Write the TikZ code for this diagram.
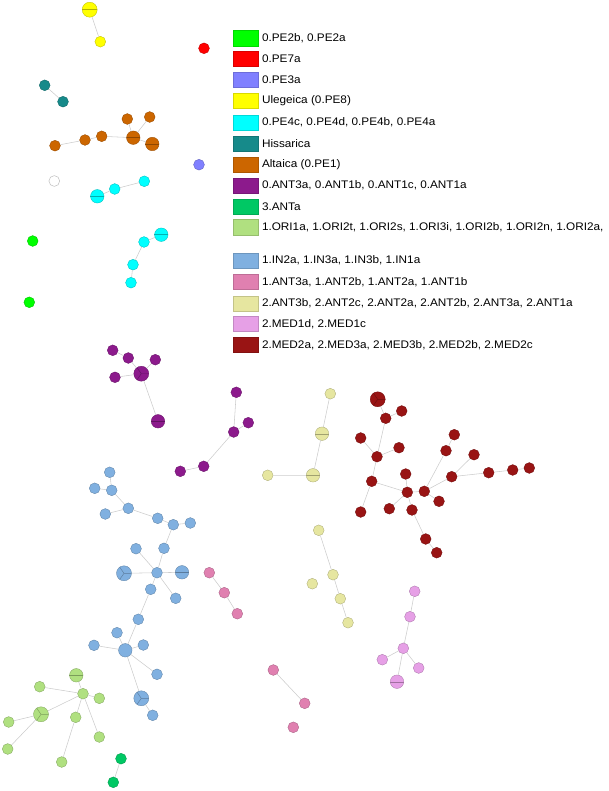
\documentclass[tikz,border=0pt]{standalone}
\usepackage{fontspec}
\setmainfont{Liberation Sans}
\newfontfamily\legfont[FakeStretch=1.07]{Liberation Sans}
\definecolor{cPEtwo}{HTML}{00FF00}
\definecolor{cPEseven}{HTML}{FF0000}
\definecolor{cPEthree}{HTML}{8080FF}
\definecolor{cUle}{HTML}{FFFF00}
\definecolor{cPEfour}{HTML}{00FFFF}
\definecolor{cHis}{HTML}{168A8A}
\definecolor{cAlt}{HTML}{CC6600}
\definecolor{cANTz}{HTML}{8C1A8C}
\definecolor{cANTt}{HTML}{00C864}
\definecolor{cORI}{HTML}{B0E080}
\definecolor{cIN}{HTML}{80B0E0}
\definecolor{cANTo}{HTML}{E080B0}
\definecolor{cANTw}{HTML}{E6E6A0}
\definecolor{cMEDo}{HTML}{E6A0E6}
\definecolor{cMEDt}{HTML}{991414}
\tikzset{
  nd/.style={circle,inner sep=0pt,minimum size=10.8pt,fill=#1,draw=#1!75!black,line width=0.35pt},
  ndb/.style={nd=#1,minimum size=13.5pt},
  ndB/.style={nd=#1,minimum size=15pt},
  edge/.style={draw=black!20,line width=0.55pt},
  seg/.style={draw=#1!70!black,line width=0.4pt},
  legsq/.style={draw=#1!85!black,fill=#1,line width=0.4pt},
  legtx/.style={anchor=west,inner sep=0pt,font=\legfont\fontsize{11}{13}\selectfont},
}
\newcommand{\hseg}[2]{\draw[seg=#2] (#1.west) -- (#1.east);}
\newcommand{\yseg}[2]{\draw[seg=#2] (#1.center) -- (#1.0) (#1.center) -- (#1.125) (#1.center) -- (#1.235);}
\begin{document}
\begin{tikzpicture}[x=1pt,y=-1pt]
\useasboundingbox (0,0) rectangle (608,791);
% ---------- legend ----------
\foreach \yy/\cc/\tt/\nn in {38.3/cPEtwo/{0.PE2b, 0.PE2a}/la,
  59/cPEseven/{0.PE7a}/lb,
  80/cPEthree/{0.PE3a}/lc,
  101/cUle/{Ulegeica (0.PE8)}/ld,
  122.5/cPEfour/{0.PE4c, 0.PE4d, 0.PE4b, 0.PE4a}/le,
  143.7/cHis/{Hissarica}/lf,
  164.8/cAlt/{Altaica (0.PE1)}/lg,
  185.7/cANTz/{0.ANT3a, 0.ANT1b, 0.ANT1c, 0.ANT1a}/lh,
  206.5/cANTt/{3.ANTa}/li,
  227.3/cORI/{1.ORI1a, 1.ORI2t, 1.ORI2s, 1.ORI3i, 1.ORI2b, 1.ORI2n, 1.ORI2a,}/lj,
  260.7/cIN/{1.IN2a, 1.IN3a, 1.IN3b, 1.IN1a}/lk,
  282/cANTo/{1.ANT3a, 1.ANT2b, 1.ANT2a, 1.ANT1b}/ll,
  303.5/cANTw/{2.ANT3b, 2.ANT2c, 2.ANT2a, 2.ANT2b, 2.ANT3a, 2.ANT1a}/lm,
  324/cMEDo/{2.MED1d, 2.MED1c}/ln,
  345/cMEDt/{2.MED2a, 2.MED3a, 2.MED3b, 2.MED2b, 2.MED2c}/lo}
{
  \path[legsq=\cc] (233.5,\yy-7.6) rectangle (258.3,\yy+7.6);
  \node[legtx] (\nn) at (261.8,\yy) {\tt};
}
% ---------- Ulegeica ----------
\node[ndB=cUle] (y1) at (89.7,9.7) {};
\node[nd=cUle] (y2) at (100.3,41.7) {};
\hseg{y1}{cUle}
\draw[edge] (y1) -- (y2);
% ---------- singletons ----------
\node[nd=cPEseven] (r1) at (204,48.3) {};
\node[nd=cPEthree] (bv) at (199,164.7) {};
\node[circle,inner sep=0pt,minimum size=10.8pt,draw=black!25,fill=white,line width=0.5pt] (w1) at (54.3,181) {};
\node[nd=cPEtwo] (g1) at (32.7,241) {};
\node[nd=cPEtwo] (g2) at (29.3,302.3) {};
% ---------- Hissarica ----------
\node[nd=cHis] (t1) at (44.7,85.3) {};
\node[nd=cHis] (t2) at (63,101.7) {};
\draw[edge] (t1) -- (t2);
% ---------- Altaica ----------
\node[nd=cAlt] (o1) at (55,145.7) {};
\node[nd=cAlt] (o2) at (85,140) {};
\node[nd=cAlt] (o3) at (101.7,136.3) {};
\node[ndb=cAlt] (o4) at (133.3,137.7) {};
\node[ndb=cAlt] (o5) at (152.3,144) {};
\node[nd=cAlt] (o6) at (127.3,119) {};
\node[nd=cAlt] (o7) at (149.7,117) {};
\hseg{o4}{cAlt}\hseg{o5}{cAlt}
\draw[edge] (o1) -- (o2) (o2) -- (o3) (o3) -- (o4) (o4) -- (o5) (o4) -- (o6) (o4) -- (o7);
% ---------- PE4 ----------
\node[ndb=cPEfour] (c1) at (97.3,196.3) {};
\node[nd=cPEfour] (c2) at (114.7,189) {};
\node[nd=cPEfour] (c3) at (144.3,181.3) {};
\node[ndb=cPEfour] (c4) at (161.3,234.7) {};
\node[nd=cPEfour] (c5) at (144,242) {};
\node[nd=cPEfour] (c6) at (133,264.7) {};
\node[nd=cPEfour] (c7) at (131,282.7) {};
\hseg{c1}{cPEfour}\hseg{c4}{cPEfour}
\draw[edge] (c1) -- (c2) (c2) -- (c3) (c4) -- (c5) (c5) -- (c6) (c6) -- (c7);
% ---------- 0.ANT ----------
\node[ndB=cANTz] (p1) at (141.3,373.7) {};
\node[nd=cANTz] (p2) at (112.7,350.3) {};
\node[nd=cANTz] (p3) at (128.3,358) {};
\node[nd=cANTz] (p4) at (155.3,359.7) {};
\node[nd=cANTz] (p5) at (115,377.3) {};
\node[ndb=cANTz] (p6) at (158,421.3) {};
\node[nd=cANTz] (p7) at (236.3,392.3) {};
\node[nd=cANTz] (p8) at (248.3,422.7) {};
\node[nd=cANTz] (p9) at (233.7,432) {};
\node[nd=cANTz] (p10) at (203.7,466.3) {};
\node[nd=cANTz] (p11) at (180.3,471.3) {};
\yseg{p1}{cANTz}\hseg{p6}{cANTz}
\draw[edge] (p2) -- (p3) (p3) -- (p1) (p4) -- (p1) (p5) -- (p1) (p1) -- (p6)
  (p7) -- (p9) (p8) -- (p9) (p9) -- (p10) (p10) -- (p11);
% ---------- 1.IN ----------
\node[nd=cIN] (b1) at (109.7,472.3) {};
\node[nd=cIN] (b2) at (94.7,488.3) {};
\node[nd=cIN] (b3) at (111.7,490.3) {};
\node[nd=cIN] (b4) at (128.3,508.3) {};
\node[nd=cIN] (b5) at (105.3,514) {};
\node[nd=cIN] (b6) at (157.7,518.3) {};
\node[nd=cIN] (b7) at (173.3,524.7) {};
\node[nd=cIN] (b8) at (190.3,523) {};
\node[nd=cIN] (b9) at (164,548.3) {};
\node[nd=cIN] (b10) at (136,548.7) {};
\node[nd=cIN] (b11) at (157,572.7) {};
\node[ndB=cIN] (b12) at (124,573.3) {};
\node[ndb=cIN] (b13) at (182,572.3) {};
\node[nd=cIN] (b14) at (150.7,589.3) {};
\node[nd=cIN] (b15) at (175.7,598.3) {};
\node[nd=cIN] (b16) at (138.3,619.3) {};
\node[nd=cIN] (b17) at (117,632.7) {};
\node[nd=cIN] (b18) at (94,645.3) {};
\node[ndb=cIN] (b19) at (125.3,650.3) {};
\node[nd=cIN] (b20) at (143.3,645) {};
\node[nd=cIN] (b21) at (157,674.3) {};
\node[ndB=cIN] (b22) at (141.3,698.3) {};
\node[nd=cIN] (b23) at (152.7,715.3) {};
\yseg{b12}{cIN}\hseg{b13}{cIN}\yseg{b22}{cIN}
\draw[edge] (b1) -- (b3) (b2) -- (b3) (b3) -- (b4) (b5) -- (b4) (b4) -- (b6) (b6) -- (b7)
  (b7) -- (b8) (b7) -- (b9) (b9) -- (b11) (b10) -- (b11) (b11) -- (b12) (b11) -- (b13)
  (b11) -- (b14) (b11) -- (b15) (b14) -- (b16) (b16) -- (b19) (b19) -- (b17) (b19) -- (b18)
  (b19) -- (b20) (b19) -- (b21) (b19) -- (b22) (b22) -- (b23);
% ---------- 1.ANT ----------
\node[nd=cANTo] (k1) at (209.3,572.7) {};
\node[nd=cANTo] (k2) at (224.3,592.7) {};
\node[nd=cANTo] (k3) at (237.3,613.7) {};
\node[nd=cANTo] (k4) at (273.3,670) {};
\node[nd=cANTo] (k5) at (304.7,703.3) {};
\node[nd=cANTo] (k6) at (293.3,727.3) {};
\draw[edge] (k1) -- (k2) (k2) -- (k3) (k4) -- (k5);
% ---------- 1.ORI ----------
\node[ndb=cORI] (l1) at (76.3,675.3) {};
\node[nd=cORI] (l2) at (39.7,686.7) {};
\node[nd=cORI] (l3) at (83,693.7) {};
\node[nd=cORI] (l4) at (99.3,698.3) {};
\node[ndB=cORI] (l5) at (41,714.3) {};
\node[nd=cORI] (l6) at (8.7,722) {};
\node[nd=cORI] (l7) at (75.7,717.3) {};
\node[nd=cORI] (l8) at (99.3,737) {};
\node[nd=cORI] (l9) at (7.7,749) {};
\node[nd=cORI] (l10) at (61.7,762) {};
\hseg{l1}{cORI}\yseg{l5}{cORI}
\draw[edge] (l3) -- (l1) (l3) -- (l2) (l3) -- (l4) (l3) -- (l5) (l3) -- (l7) (l3) -- (l8)
  (l5) -- (l6) (l5) -- (l9) (l7) -- (l10);
% ---------- 3.ANTa ----------
\node[nd=cANTt] (a1) at (121,758.7) {};
\node[nd=cANTt] (a2) at (113.3,782.3) {};
\draw[edge] (a1) -- (a2);
% ---------- 2.ANT ----------
\node[nd=cANTw] (h1) at (330.3,393.7) {};
\node[ndb=cANTw] (h2) at (322,433.7) {};
\node[ndb=cANTw] (h3) at (313,475.3) {};
\node[nd=cANTw] (h4) at (267.7,475.3) {};
\node[nd=cANTw] (h5) at (318.7,530.3) {};
\node[nd=cANTw] (h6) at (333,574.7) {};
\node[nd=cANTw] (h7) at (312.3,583.7) {};
\node[nd=cANTw] (h8) at (340.3,598.7) {};
\node[nd=cANTw] (h9) at (348,622.7) {};
\hseg{h2}{cANTw}\hseg{h3}{cANTw}
\draw[edge] (h1) -- (h2) (h2) -- (h3) (h3) -- (h4) (h5) -- (h6) (h6) -- (h8) (h8) -- (h9);
% ---------- 2.MED2 ----------
\node[ndB=cMEDt] (d1) at (377.7,399.3) {};
\node[nd=cMEDt] (d2) at (385.7,418.3) {};
\node[nd=cMEDt] (d3) at (401.7,411) {};
\node[nd=cMEDt] (d4) at (360.7,438) {};
\node[nd=cMEDt] (d5) at (377,456.7) {};
\node[nd=cMEDt] (d6) at (399,447.7) {};
\node[nd=cMEDt] (d7) at (371.7,481.3) {};
\node[nd=cMEDt] (d8) at (360.7,512) {};
\node[nd=cMEDt] (d9) at (405.7,474) {};
\node[nd=cMEDt] (d10) at (407.3,492.3) {};
\node[nd=cMEDt] (d11) at (424.3,491.3) {};
\node[nd=cMEDt] (d12) at (389.3,508.7) {};
\node[nd=cMEDt] (d13) at (412,510) {};
\node[nd=cMEDt] (d14) at (439,501.3) {};
\node[nd=cMEDt] (d15) at (454.3,434.7) {};
\node[nd=cMEDt] (d16) at (446,450.7) {};
\node[nd=cMEDt] (d17) at (474,454.7) {};
\node[nd=cMEDt] (d18) at (451.7,476.7) {};
\node[nd=cMEDt] (d19) at (488.7,472.7) {};
\node[nd=cMEDt] (d20) at (512.7,470) {};
\node[nd=cMEDt] (d21) at (529.3,468) {};
\node[nd=cMEDt] (d22) at (425.7,539) {};
\node[nd=cMEDt] (d23) at (436.7,552.7) {};
\yseg{d1}{cMEDt}
\draw[edge] (d1) -- (d2) (d2) -- (d3) (d2) -- (d5) (d4) -- (d5) (d6) -- (d5) (d5) -- (d7)
  (d7) -- (d8) (d7) -- (d10) (d10) -- (d9) (d10) -- (d12) (d10) -- (d13) (d10) -- (d11)
  (d11) -- (d16) (d16) -- (d15) (d11) -- (d18) (d11) -- (d14) (d18) -- (d17) (d18) -- (d19)
  (d19) -- (d20) (d20) -- (d21) (d13) -- (d22) (d22) -- (d23);
% ---------- 2.MED1 ----------
\node[nd=cMEDo] (m1) at (414.7,591.3) {};
\node[nd=cMEDo] (m2) at (410,616.7) {};
\node[nd=cMEDo] (m3) at (403.3,648.3) {};
\node[nd=cMEDo] (m4) at (382.3,659.7) {};
\node[nd=cMEDo] (m5) at (418.7,668) {};
\node[ndb=cMEDo] (m6) at (397,681.7) {};
\hseg{m6}{cMEDo}
\draw[edge] (m1) -- (m2) (m2) -- (m3) (m3) -- (m4) (m3) -- (m5) (m3) -- (m6);
\end{tikzpicture}
\end{document}
